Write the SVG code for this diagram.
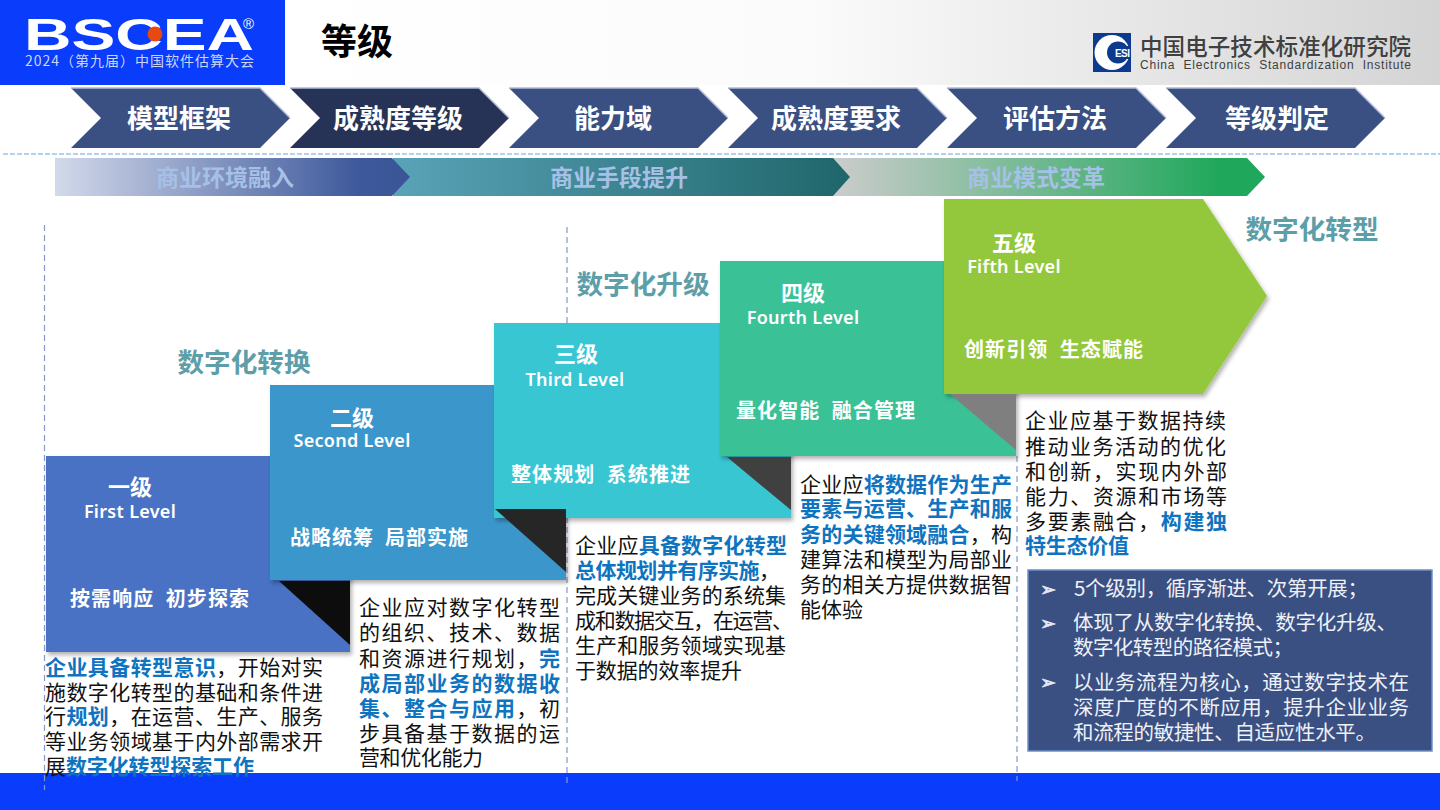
<svg xmlns="http://www.w3.org/2000/svg" width="1440" height="810" viewBox="0 0 1440 810">
<style>
text{font-family:"Noto Sans CJK SC","Liberation Sans",sans-serif}
.nav{font-size:26px;font-weight:700;fill:#fff;text-anchor:middle}
.band{font-size:23px;font-weight:700;fill:#a6c0e6;text-anchor:middle}
.stage{font-size:26.600px;font-weight:700;fill:#5d9ea8;text-anchor:middle}
.lv{font-size:22px;font-weight:700;fill:#fff;text-anchor:middle}
.en{font-size:18px;font-weight:600;letter-spacing:.3px;fill:#fff;text-anchor:middle;font-family:"Noto Sans","Noto Sans CJK SC",sans-serif}
.tag{font-size:20px;font-weight:700;fill:#fff;white-space:pre}
.b{font-size:21px;fill:#111}
.h{font-weight:700;fill:#0f74c0}
.w{font-size:20.500px;fill:#eef1f8}
.bu{font-size:19px;fill:#e4e8f2;stroke:#e4e8f2;stroke-width:.7;font-family:"DejaVu Sans",sans-serif}
.dv{stroke:#8798c8;stroke-width:1.200;stroke-dasharray:6 4;fill:none}
.hl{fill:none;stroke:#aebbd9;stroke-width:1.500}
</style>
<defs>
<linearGradient id="hd" x1="0" x2="1" y1="0" y2="0"><stop offset="0" stop-color="#fff"/><stop offset=".45" stop-color="#fbfbfb"/><stop offset="1" stop-color="#d4d4d4"/></linearGradient>
<linearGradient id="g1" x1="0" x2="1" y1="0" y2="0"><stop offset="0" stop-color="#d2d9ea"/><stop offset=".85" stop-color="#3f5a9c"/><stop offset="1" stop-color="#3a5596"/></linearGradient>
<linearGradient id="g2" x1="0" x2="1" y1="0" y2="0"><stop offset="0" stop-color="#5aa3b8"/><stop offset="1" stop-color="#1f666b"/></linearGradient>
<linearGradient id="g3" x1="0" x2="1" y1="0" y2="0"><stop offset="0" stop-color="#cccccc"/><stop offset=".9" stop-color="#1fa75b"/><stop offset="1" stop-color="#1fa75b"/></linearGradient>
<filter id="sh" x="-5%" y="-5%" width="112%" height="112%"><feDropShadow dx="2" dy="3" stdDeviation="2" flood-color="#000" flood-opacity=".3"/></filter>
</defs>

<g id="header">
<rect x="285" y="0" width="1155" height="85" fill="url(#hd)"/>
<rect x="0" y="0" width="285" height="85" fill="#0a3cfb"/>
<text x="24" y="50" font-size="45" font-weight="900" fill="#fff" textLength="230" lengthAdjust="spacingAndGlyphs" style="font-family:'Liberation Sans',sans-serif">BSCEA</text>
<circle cx="155" cy="34" r="7.500" fill="#e8490f"/>
<text x="243" y="29" font-size="15" fill="#fff" style="font-family:'Liberation Sans',sans-serif">®</text>
<text x="25" y="66" font-size="14" fill="#c9d6f7" textLength="229">2024（第九届）中国软件估算大会</text>
<text x="321" y="55" font-size="36" font-weight="700" fill="#000">等级</text>
<g id="esi-logo">
<rect x="1093" y="33" width="38" height="39" fill="#0b3a8e"/>
<circle cx="1112" cy="52.500" r="17.500" fill="#fff"/>
<circle cx="1118" cy="52.500" r="11" fill="#0b3a8e"/>
<rect x="1118" y="46" width="13" height="13" fill="#0b3a8e"/>
<text x="1115" y="57" font-size="10" font-weight="700" fill="#fff" style="font-family:'Liberation Sans',sans-serif" textLength="15">ESI</text>
</g>
<text x="1140" y="55" font-size="22.500" font-weight="500" fill="#404040" textLength="271">中国电子技术标准化研究院</text>
<text x="1140" y="69" font-size="12" fill="#404040" textLength="271" style="font-family:'Liberation Sans',sans-serif;white-space:pre">China  Electronics  Standardization  Institute</text>
</g>

<g id="nav">
<g id="nav1"><polygon points="71,88 260,88 290,118 260,148 71,148 101,118" fill="#3a4f82"/><polyline class="hl" points="71,88 260,88 290,118"/><text class="nav" x="179" y="128">模型框架</text></g>
<g id="nav2"><polygon points="290,88 479,88 509,118 479,148 290,148 320,118" fill="#263356"/><polyline class="hl" points="290,88 479,88 509,118"/><text class="nav" x="398" y="128">成熟度等级</text></g>
<g id="nav3"><polygon points="509,88 698,88 728,118 698,148 509,148 539,118" fill="#3a4f82"/><polyline class="hl" points="509,88 698,88 728,118"/><text class="nav" x="613" y="128">能力域</text></g>
<g id="nav4"><polygon points="728,88 917,88 947,118 917,148 728,148 758,118" fill="#3a4f82"/><polyline class="hl" points="728,88 917,88 947,118"/><text class="nav" x="836" y="128">成熟度要求</text></g>
<g id="nav5"><polygon points="947,88 1136,88 1166,118 1136,148 947,148 977,118" fill="#3a4f82"/><polyline class="hl" points="947,88 1136,88 1166,118"/><text class="nav" x="1055" y="128">评估方法</text></g>
<g id="nav6"><polygon points="1166,88 1355,88 1385,118 1355,148 1166,148 1196,118" fill="#3a4f82"/><polyline class="hl" points="1166,88 1355,88 1385,118"/><text class="nav" x="1277" y="128">等级判定</text></g>
</g>
<line x1="3" y1="154" x2="1440" y2="154" stroke="#9cc3e6" stroke-width="1.500" stroke-dasharray="5 2"/>

<g id="bands">
<polygon points="833,158 1247,158 1265,177 1247,196 833,196" fill="url(#g3)"/>
<polygon points="393,158 833,158 850,177 833,196 393,196" fill="url(#g2)"/>
<polygon points="55,158 392,158 410,177 392,196 55,196" fill="url(#g1)"/>
<text class="band" x="225" y="186">商业环境融入</text>
<text class="band" x="619" y="186">商业手段提升</text>
<text class="band" x="1036" y="186">商业模式变革</text>
</g>

<rect id="footer" x="0" y="773" width="1440" height="37" fill="#0a3cfb"/>

<g id="dividers">
<line class="dv" x1="44.500" y1="225" x2="44.500" y2="790"/>
<line class="dv" x1="567" y1="227" x2="567" y2="783"/>
<line class="dv" x1="1017" y1="456" x2="1017" y2="781"/>
</g>

<g id="level1"><rect x="46" y="456" width="304" height="196" fill="#4a72c4" filter="url(#sh)"/></g>
<g id="level2"><rect x="270" y="385" width="296" height="195" fill="#3b97cb" filter="url(#sh)"/></g>
<g id="level3"><rect x="494" y="323" width="297" height="195" fill="#38c6d3" filter="url(#sh)"/></g>
<g id="level4"><rect x="720" y="261" width="296" height="195" fill="#3bc196" filter="url(#sh)"/></g>
<g id="level5"><polygon points="944,199 1203,199 1267,296 1203,394 944,394" fill="#93c83c" filter="url(#sh)"/></g>

<g id="folds">
<polygon points="279,581 350,581 350,645" fill="#0d0d0d"/>
<polygon points="495,509 566,509 566,572" fill="#262626"/>
<polygon points="727,457 791,457 791,510" fill="#404040"/>
<polygon points="950,394 1016,394 1016,450" fill="#7f7f7f"/>
</g>

<g id="level-labels">
<text class="lv" x="130" y="495">一级</text><text class="en" x="130" y="518">First Level</text><text class="tag" x="70" y="606" textLength="179">按需响应  初步探索</text>
<text class="lv" x="352" y="426">二级</text><text class="en" x="352" y="447">Second Level</text><text class="tag" x="290" y="545" textLength="178">战略统筹  局部实施</text>
<text class="lv" x="576" y="362">三级</text><text class="en" x="575" y="386">Third Level</text><text class="tag" x="511" y="482" textLength="179">整体规划  系统推进</text>
<text class="lv" x="803" y="301">四级</text><text class="en" x="803" y="324">Fourth Level</text><text class="tag" x="736" y="418" textLength="179">量化智能  融合管理</text>
<text class="lv" x="1014" y="251">五级</text><text class="en" x="1014" y="273">Fifth Level</text><text class="tag" x="964" y="357" textLength="179">创新引领  生态赋能</text>
</g>

<g id="stages">
<text class="stage" x="244" y="372">数字化转换</text>
<text class="stage" x="643" y="294">数字化升级</text>
<text class="stage" x="1312" y="239">数字化转型</text>
</g>

<g id="desc1">
<text class="b" x="45" y="675" textLength="278"><tspan class="h">企业具备转型意识</tspan>，开始对实</text>
<text class="b" x="45" y="700" textLength="278">施数字化转型的基础和条件进</text>
<text class="b" x="45" y="724" textLength="278">行<tspan class="h">规划</tspan>，在运营、生产、服务</text>
<text class="b" x="45" y="749" textLength="278">等业务领域基于内外部需求开</text>
<text class="b" x="45" y="774" textLength="209">展<tspan class="h">数字化转型探索工作</tspan></text>
</g>
<g id="desc2">
<text class="b" x="359" y="615" textLength="201">企业应对数字化转型</text>
<text class="b" x="359" y="640" textLength="201">的组织、技术、数据</text>
<text class="b" x="359" y="666" textLength="201">和资源进行规划，<tspan class="h">完</tspan></text>
<text class="b" x="359" y="691" textLength="201"><tspan class="h">成局部业务的数据收</tspan></text>
<text class="b" x="359" y="716" textLength="201"><tspan class="h">集、整合与应用</tspan>，初</text>
<text class="b" x="359" y="741" textLength="201">步具备基于数据的运</text>
<text class="b" x="359" y="765" textLength="124">营和优化能力</text>
</g>
<g id="desc3">
<text class="b" x="575" y="553" textLength="212">企业应<tspan class="h">具备数字化转型</tspan></text>
<text class="b" x="575" y="578" textLength="205"><tspan class="h">总体规划并有序实施</tspan>，</text>
<text class="b" x="575" y="603" textLength="211">完成关键业务的系统集</text>
<text class="b" x="575" y="628" textLength="218">成和数据交互，在运营、</text>
<text class="b" x="575" y="653" textLength="211">生产和服务领域实现基</text>
<text class="b" x="575" y="678" textLength="167">于数据的效率提升</text>
</g>
<g id="desc4">
<text class="b" x="800" y="492" textLength="212">企业应<tspan class="h">将数据作为生产</tspan></text>
<text class="b" x="800" y="516" textLength="212"><tspan class="h">要素与运营、生产和服</tspan></text>
<text class="b" x="800" y="542" textLength="212"><tspan class="h">务的关键领域融合</tspan>，构</text>
<text class="b" x="800" y="567" textLength="212">建算法和模型为局部业</text>
<text class="b" x="800" y="592" textLength="212">务的相关方提供数据智</text>
<text class="b" x="800" y="617" textLength="63">能体验</text>
</g>
<g id="desc5">
<text class="b" x="1025" y="428" textLength="201">企业应基于数据持续</text>
<text class="b" x="1025" y="454" textLength="201">推动业务活动的优化</text>
<text class="b" x="1025" y="479" textLength="202">和创新，实现内外部</text>
<text class="b" x="1025" y="504" textLength="202">能力、资源和市场等</text>
<text class="b" x="1025" y="529" textLength="202">多要素融合，<tspan class="h">构建独</tspan></text>
<text class="b" x="1025" y="553" textLength="104"><tspan class="h">特生态价值</tspan></text>
</g>

<g id="summary">
<rect x="1028" y="570" width="404" height="181" fill="#3a4f82" stroke="#6f8fc8" stroke-width="1.500"/>
<text class="bu" x="1040" y="596">➢</text>
<text class="w" x="1074" y="596" textLength="294">5个级别，循序渐进、次第开展；</text>
<text class="bu" x="1040" y="630">➢</text>
<text class="w" x="1073" y="630" textLength="324">体现了从数字化转换、数字化升级、</text>
<text class="w" x="1073" y="655" textLength="220">数字化转型的路径模式；</text>
<text class="bu" x="1040" y="689">➢</text>
<text class="w" x="1073" y="690" textLength="336">以业务流程为核心，通过数字技术在</text>
<text class="w" x="1073" y="715" textLength="336">深度广度的不断应用，提升企业业务</text>
<text class="w" x="1073" y="740" textLength="303">和流程的敏捷性、自适应性水平。</text>
</g>
</svg>
